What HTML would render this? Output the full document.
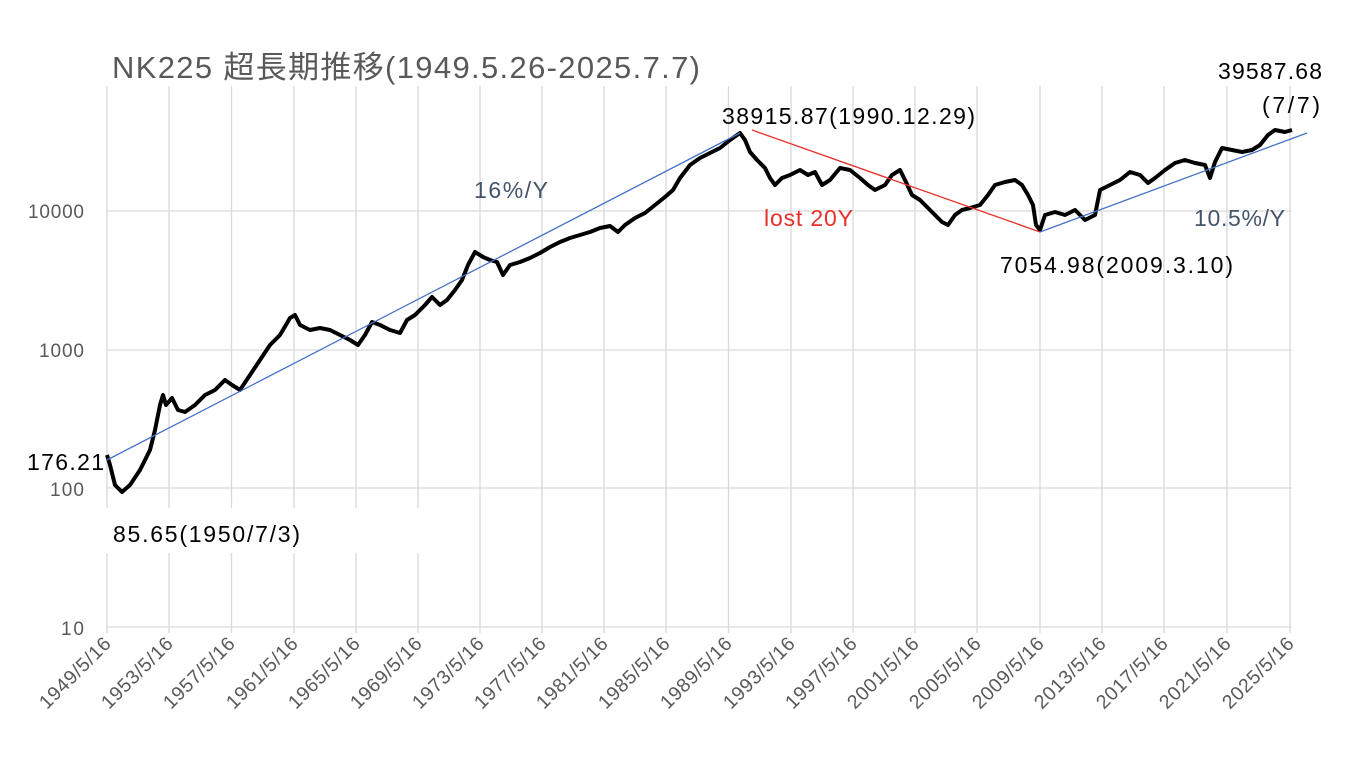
<!DOCTYPE html>
<html><head><meta charset="utf-8"><style>
html,body{margin:0;padding:0;background:#fff;}
svg text{font-family:"Liberation Sans","Noto Sans CJK JP",sans-serif;}
</style></head><body>
<svg width="1364" height="754" xmlns="http://www.w3.org/2000/svg">
<g stroke="#d9d9d9" stroke-width="1.3">
<line x1="107" y1="488" x2="1292" y2="488"/><line x1="107" y1="350" x2="1292" y2="350"/><line x1="107" y1="211" x2="1292" y2="211"/><line x1="107" y1="627" x2="1292" y2="627"/>
<line x1="107" y1="86" x2="107" y2="633"/><line x1="169" y1="86" x2="169" y2="633"/><line x1="231.5" y1="86" x2="231.5" y2="633"/><line x1="294" y1="86" x2="294" y2="633"/><line x1="356" y1="86" x2="356" y2="633"/><line x1="418" y1="86" x2="418" y2="633"/><line x1="480" y1="86" x2="480" y2="633"/><line x1="542" y1="86" x2="542" y2="633"/><line x1="604" y1="86" x2="604" y2="633"/><line x1="666" y1="86" x2="666" y2="633"/><line x1="728.5" y1="86" x2="728.5" y2="633"/><line x1="791" y1="86" x2="791" y2="633"/><line x1="853" y1="86" x2="853" y2="633"/><line x1="915" y1="86" x2="915" y2="633"/><line x1="977" y1="86" x2="977" y2="633"/><line x1="1040" y1="86" x2="1040" y2="633"/><line x1="1102" y1="86" x2="1102" y2="633"/><line x1="1164" y1="86" x2="1164" y2="633"/><line x1="1227" y1="86" x2="1227" y2="633"/><line x1="1290" y1="86" x2="1290" y2="633"/>
</g>
<rect x="100" y="508" width="320" height="45" fill="#fff"/>
<g font-size="19" fill="#595959" text-anchor="end">
<text x="84" y="218" textLength="56">10000</text><text x="84" y="357" textLength="45">1000</text><text x="84" y="496" textLength="34">100</text><text x="84" y="635" textLength="23">10</text>
</g>
<g font-size="19.5" fill="#595959" text-anchor="end">
<text transform="translate(112,645) rotate(-45)" textLength="92">1949/5/16</text><text transform="translate(174,645) rotate(-45)" textLength="92">1953/5/16</text><text transform="translate(236,645) rotate(-45)" textLength="92">1957/5/16</text><text transform="translate(299,645) rotate(-45)" textLength="92">1961/5/16</text><text transform="translate(361,645) rotate(-45)" textLength="92">1965/5/16</text><text transform="translate(423,645) rotate(-45)" textLength="92">1969/5/16</text><text transform="translate(485,645) rotate(-45)" textLength="92">1973/5/16</text><text transform="translate(547,645) rotate(-45)" textLength="92">1977/5/16</text><text transform="translate(609,645) rotate(-45)" textLength="92">1981/5/16</text><text transform="translate(671,645) rotate(-45)" textLength="92">1985/5/16</text><text transform="translate(733,645) rotate(-45)" textLength="92">1989/5/16</text><text transform="translate(796,645) rotate(-45)" textLength="92">1993/5/16</text><text transform="translate(858,645) rotate(-45)" textLength="92">1997/5/16</text><text transform="translate(920,645) rotate(-45)" textLength="92">2001/5/16</text><text transform="translate(982,645) rotate(-45)" textLength="92">2005/5/16</text><text transform="translate(1045,645) rotate(-45)" textLength="92">2009/5/16</text><text transform="translate(1107,645) rotate(-45)" textLength="92">2013/5/16</text><text transform="translate(1169,645) rotate(-45)" textLength="92">2017/5/16</text><text transform="translate(1232,645) rotate(-45)" textLength="92">2021/5/16</text><text transform="translate(1295,645) rotate(-45)" textLength="92">2025/5/16</text>
</g>
<text x="112" y="78" font-size="31" fill="#595959" textLength="588">NK225 超長期推移(1949.5.26-2025.7.7)</text>
<polyline fill="none" stroke="#000" stroke-width="4" stroke-linejoin="round" points="107,455 110,465 115,485 122,492 130,485 140,470 150,450 155,430 160,405 163,395 166,405 172,398 178,410 185,412 195,405 205,395 215,390 225,380 232,385 240,390 250,375 260,360 270,345 280,335 290,318 295,315 300,325 310,330 320,328 330,330 340,335 350,340 358,345 365,335 372,322 380,325 390,330 400,333 407,320 415,315 425,305 432,297 440,305 447,300 455,290 462,280 468,265 475,252 483,257 490,260 497,262 503,275 510,265 520,262 530,258 540,253 550,247 560,242 570,238 580,235 590,232 600,228 610,226 618,232 625,225 635,218 645,213 655,205 665,197 673,190 680,178 690,165 700,158 710,153 720,148 730,140 740,133 745,140 750,152 757,160 765,168 770,178 775,185 782,178 790,175 800,170 808,175 815,172 822,185 830,180 840,168 850,170 860,178 868,185 875,190 885,185 892,175 900,170 905,180 912,195 920,200 928,208 935,215 942,222 948,225 955,215 962,210 970,208 980,205 988,195 995,185 1005,182 1015,180 1022,185 1028,195 1033,205 1036,225 1040,230 1045,215 1055,212 1065,215 1075,210 1085,220 1095,215 1100,190 1110,185 1120,180 1130,172 1140,175 1148,183 1155,178 1165,170 1175,163 1185,160 1195,163 1205,165 1210,178 1215,162 1222,148 1232,150 1242,152 1252,150 1260,145 1268,135 1275,130 1285,132 1292,130"/>
<line x1="107" y1="460" x2="740" y2="133" stroke="#4472c4" stroke-width="1.3"/>
<line x1="752" y1="130" x2="1040" y2="232" stroke="#e8302a" stroke-width="1.3"/>
<line x1="1040" y1="232" x2="1307" y2="133" stroke="#4472c4" stroke-width="1.3"/>
<g font-size="23">
<text x="474" y="198" fill="#44546a" textLength="74">16%/Y</text>
<text x="764" y="226" fill="#e8302a" textLength="89">lost 20Y</text>
<text x="1194" y="226" fill="#44546a" textLength="91">10.5%/Y</text>
<text x="722" y="124" fill="#000" textLength="253">38915.87(1990.12.29)</text>
<text x="1000" y="273" fill="#000" textLength="233">7054.98(2009.3.10)</text>
<text x="1218" y="79" fill="#000" textLength="104">39587.68</text>
<text x="1262" y="113" fill="#000" textLength="58">(7/7)</text>
<text x="27" y="470" fill="#000" textLength="77">176.21</text>
<text x="113" y="542" fill="#000" textLength="187">85.65(1950/7/3)</text>
</g>
</svg>
</body></html>
